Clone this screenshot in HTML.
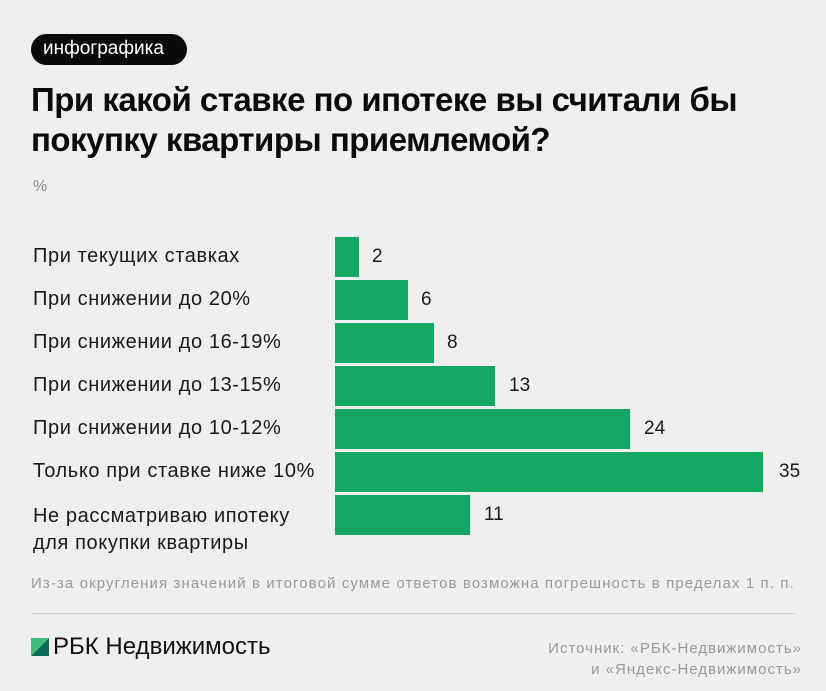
<!DOCTYPE html>
<html><head><meta charset="utf-8"><style>
body{margin:0;width:826px;height:691px;background:#efefef;font-family:"Liberation Sans","Noto Sans CJK SC",sans-serif;position:relative;overflow:hidden;}
.a{position:absolute;white-space:nowrap;}
.bar{position:absolute;left:335px;height:40px;background:#12a864;}
.lbl{position:absolute;left:33px;font-size:20px;letter-spacing:0.6px;color:#1a1a1a;}
.val{position:absolute;font-size:19px;color:#1a1a1a;}
</style></head><body>
<div class="a" style="left:31px;top:34px;width:156px;height:31px;border-radius:16px;background:#0a0a0a;"></div>
<div class="a" style="left:43px;top:38px;font-size:19px;color:#fff;">инфографика</div>
<div class="a" style="left:31px;top:80px;font-size:33px;font-weight:bold;line-height:40px;color:#0a0a0a;letter-spacing:-0.5px;">При какой ставке по ипотеке вы считали бы<br>покупку квартиры приемлемой?</div>
<div class="a" style="left:33px;top:178px;font-size:16px;color:#888;">%</div>

<div class="lbl" style="top:245px">При текущих ставках</div>
<div class="bar" style="top:237px;width:24px"></div><div class="val" style="left:372px;top:246px">2</div>

<div class="lbl" style="top:288px">При снижении до 20%</div>
<div class="bar" style="top:280px;width:73px"></div><div class="val" style="left:421px;top:289px">6</div>

<div class="lbl" style="top:331px">При снижении до 16-19%</div>
<div class="bar" style="top:323px;width:99px"></div><div class="val" style="left:447px;top:332px">8</div>

<div class="lbl" style="top:374px">При снижении до 13-15%</div>
<div class="bar" style="top:366px;width:160px"></div><div class="val" style="left:509px;top:375px">13</div>

<div class="lbl" style="top:417px">При снижении до 10-12%</div>
<div class="bar" style="top:409px;width:295px"></div><div class="val" style="left:644px;top:418px">24</div>

<div class="lbl" style="top:460px">Только при ставке ниже 10%</div>
<div class="bar" style="top:452px;width:428px"></div><div class="val" style="left:779px;top:461px">35</div>

<div class="lbl" style="top:503px;line-height:27px">Не рассматриваю ипотеку<br>для покупки квартиры</div>
<div class="bar" style="top:495px;width:135px"></div><div class="val" style="left:484px;top:504px">11</div>

<div class="a" style="left:31px;top:575px;font-size:15px;letter-spacing:1.1px;color:#9a9a9a;">Из-за округления значений в итоговой сумме ответов возможна погрешность в пределах 1 п. п.</div>
<div class="a" style="left:31px;top:613px;width:764px;height:1px;background:#cfcfcf;"></div>
<svg class="a" style="left:31px;top:638px" width="18" height="18"><polygon points="0,0 18,0 0,18" fill="#3fbf7f"/><polygon points="18,0 18,18 0,18" fill="#0d6b5a"/></svg>
<div class="a" style="left:53px;top:633px;font-size:24px;color:#111;">РБК Недвижимость</div>
<div class="a" style="right:24px;top:638px;font-size:15px;letter-spacing:1px;color:#999;text-align:right;line-height:21px;">Источник: «РБК-Недвижимость»<br>и «Яндекс-Недвижимость»</div>
</body></html>
